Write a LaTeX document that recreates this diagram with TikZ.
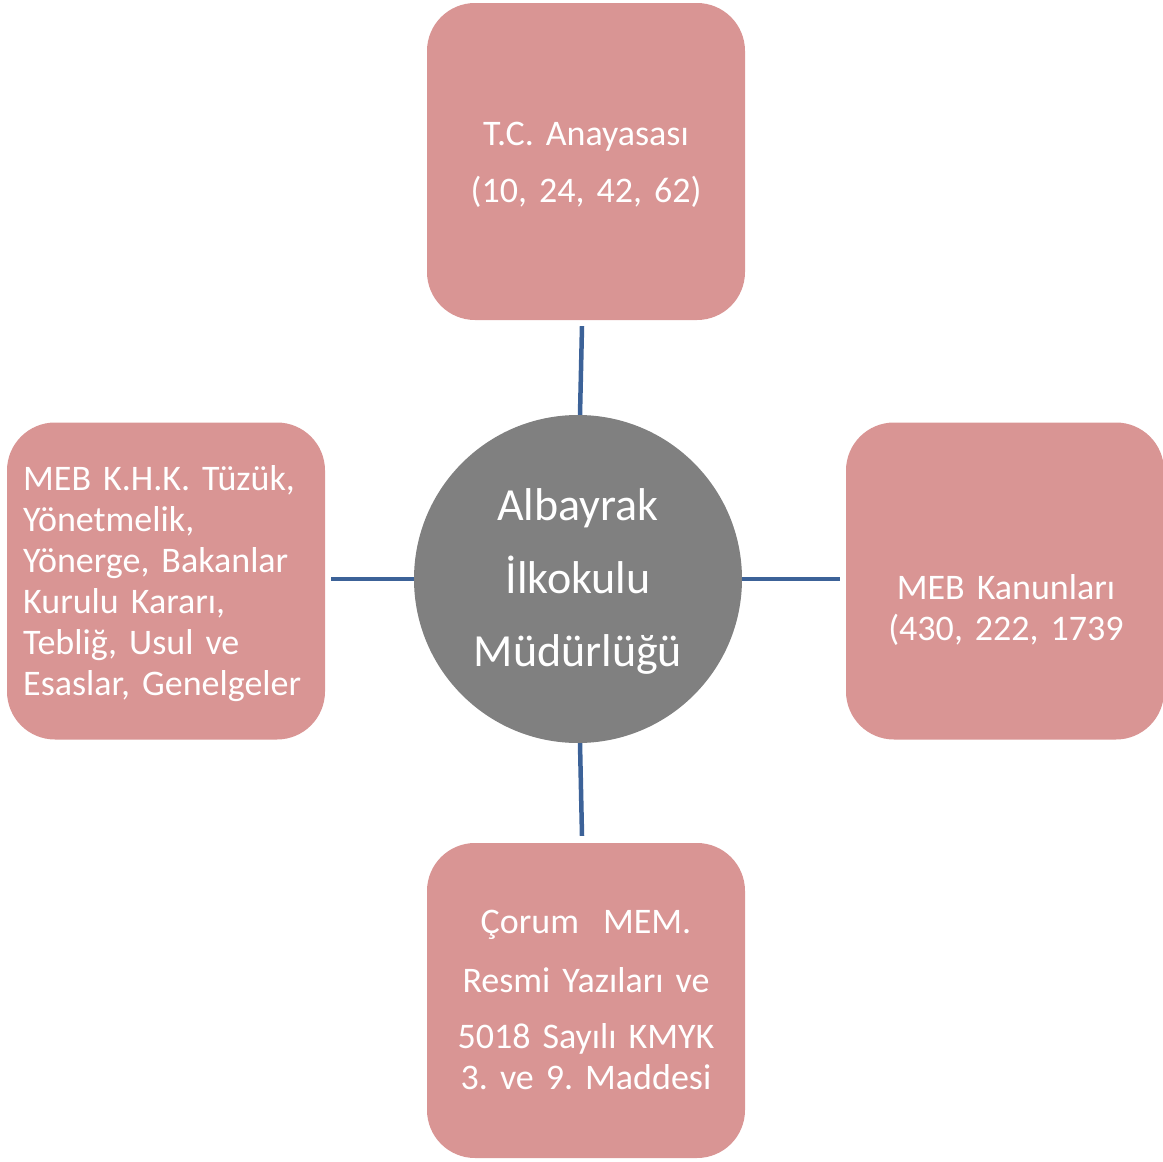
\documentclass[tikz,border=0pt]{standalone}
\usepackage{fontspec}
\setmainfont{Carlito}
\definecolor{boxpink}{HTML}{D99594}
\definecolor{hubgray}{HTML}{808080}
\definecolor{linkblue}{HTML}{3C6298}
\begin{document}
\frenchspacing
\begin{tikzpicture}[x=1pt,y=-1pt,
  srcbox/.style={draw=none, fill=boxpink, rounded corners=48pt, minimum width=318pt, minimum height=317pt, inner sep=0pt},
  hub/.style={circle, fill=hubgray, minimum size=328pt, inner sep=0pt},
  link/.style={draw=linkblue, line width=4.5pt},
  lbl/.style={text=white, font=\fontsize{36pt}{41pt}\selectfont\frenchspacing, inner sep=0pt, anchor=base},
  hublbl/.style={text=white, font=\fontsize{46pt}{73pt}\selectfont, inner sep=0pt, anchor=base},
]
\useasboundingbox (0,0) rectangle (1163,1162);
\node[srcbox] (top) at (586,161.5) {};
\node[srcbox] (left) at (166,581) {};
\node[srcbox] (right) at (1005,581) {};
\node[srcbox, minimum height=315pt] (bottom) at (586,1000.5) {};
\node[hub] (hub) at (578,579) {};

\draw[link] ([xshift=-4pt,yshift=-6pt]top.south) -- ([xshift=2pt]hub.north);
\draw[link] ([xshift=6pt]left.east |- hub.west) -- (hub.west);
\draw[link] (hub.east) -- ([xshift=-6pt]right.west |- hub.east);
\draw[link] ([xshift=2pt]hub.south) -- ([xshift=-4pt,yshift=7pt]bottom.north);

\node[lbl, text width=300pt, align=center] (tTop) at (586,145) {T.C. Anayasası\\[16pt](10, 24, 42, 62)};
\node[lbl, text width=300pt, align=left, anchor=base west] (tLeft) at (23,490) {MEB K.H.K. Tüzük,\\Yönetmelik,\\Yönerge, Bakanlar\\Kurulu Kararı,\\Tebliğ, Usul ve\\Esaslar, Genelgeler};
\node[lbl, text width=300pt, align=center] (tRight) at (1006,599) {MEB Kanunları\\(430, 222, 1739};
\node[lbl, text width=300pt, align=center] (tBottom) at (586,933) {Çorum\ \ MEM.\\[18pt]Resmi Yazıları ve\\[15pt]5018 Sayılı KMYK\\3. ve 9. Maddesi};
\node[hublbl, text width=300pt, align=center] (tHub) at (578,520) {Albayrak\\İlkokulu\\Müdürlüğü};
\end{tikzpicture}
\end{document}
